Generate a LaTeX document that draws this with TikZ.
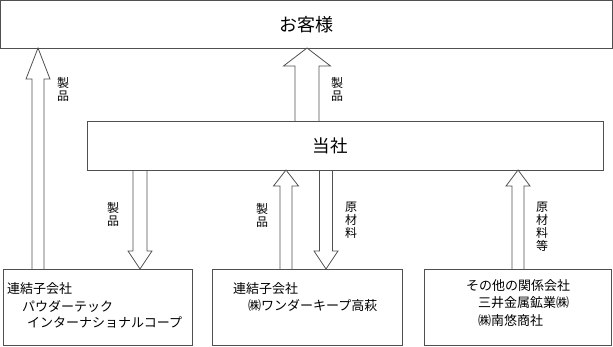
\documentclass[tikz,border=0pt]{standalone}
\usepackage{fontspec}
\setmainfont{Noto Sans CJK JP}
\usetikzlibrary{calc}

\definecolor{linegray}{RGB}{80,80,80}

\tikzset{
  boxnode/.style={draw=linegray, line width=0.8pt, inner sep=0pt, outer sep=0pt},
  arrowline/.style={draw=linegray, line width=0.8pt, line join=miter},
  vlabel/.style={font=\fontsize{12}{13}\selectfont, align=center, inner sep=0pt, anchor=north},
  boxtext/.style={font=\fontsize{13}{16}\selectfont, inner sep=0pt, anchor=west}
}

% block arrow: from (#1) towards the y of (#2); shaft half width #3, head half width #4, head length #5
\newcommand{\blockarrow}[5]{%
  \draw[arrowline] let \p1=(#1), \p2=(#2), \n1={sign(\y2-(\y1))} in
    ({\x1-#3pt},\y1) -- ({\x1-#3pt},{\y2-(\n1)*#5pt}) -- ({\x1-#4pt},{\y2-(\n1)*#5pt})
    -- (\x1,\y2) -- ({\x1+#4pt},{\y2-(\n1)*#5pt}) -- ({\x1+#3pt},{\y2-(\n1)*#5pt})
    -- ({\x1+#3pt},\y1);}

\begin{document}
\begin{tikzpicture}[x=1pt, y=-1pt]
\useasboundingbox (0,0) rectangle (613,346);

% Kunden
\node[boxnode, minimum width=612pt, minimum height=47.5pt,
  font=\fontsize{18}{20}\selectfont] (kyaku) at (306.5,24.25) {お客様};

% Hauptgesellschaft
\node[boxnode, minimum width=516pt, minimum height=49pt] (tousha) at (345,145.5) {};
\node[font=\fontsize{17.5}{20}\selectfont, inner sep=0pt] (toushatext) at (330,146) {当社};

% Untergesellschaften
\node[boxnode, minimum width=189pt, minimum height=76pt] (sub1) at (97.5,307) {};
\node[boxnode, minimum width=190pt, minimum height=76pt] (sub2) at (307,307) {};
\node[boxnode, minimum width=187.5pt, minimum height=76pt] (sub3) at (517.75,307) {};

\node[boxtext] (sub1a) at (7,289) {連結子会社};
\node[boxtext] (sub1b) at (22,306) {パウダーテック};
\node[boxtext] (sub1c) at (27,322) {インターナショナルコープ};

\node[boxtext] (sub2a) at (233,289) {連結子会社};
\node[boxtext] (sub2b) at (248,306) {㈱ワンダーキープ高萩};

\node[boxtext] (sub3a) at (466,286) {その他の関係会社};
\node[boxtext] (sub3b) at (478,303) {三井金属鉱業㈱};
\node[boxtext] (sub3c) at (478,321) {㈱南悠商社};

% Pfeile
\blockarrow{[xshift=35pt]sub1.north west}{kyaku.south}{6}{12}{31}
\blockarrow{[xshift=-38pt]tousha.north}{kyaku.south}{12}{23.5}{18}
\blockarrow{[xshift=53pt]tousha.south west}{sub1.north}{7}{12}{18}
\blockarrow{[xshift=74pt]sub2.north west}{tousha.south}{6}{12.5}{16}
\blockarrow{[xshift=-19pt]tousha.south}{sub2.north}{6.5}{12}{18}
\blockarrow{[xshift=94pt]sub3.north west}{tousha.south}{6}{12}{16}

% Beschriftungen
\node[vlabel] (lab1) at (63,77) {製\\品};
\node[vlabel] (lab2) at (337,77) {製\\品};
\node[vlabel] (lab3) at (113,202) {製\\品};
\node[vlabel] (lab4) at (262,203) {製\\品};
\node[vlabel] (lab5) at (351,202) {原\\材\\料};
\node[vlabel] (lab6) at (542,202) {原\\材\\料\\等};
\end{tikzpicture}
\end{document}
